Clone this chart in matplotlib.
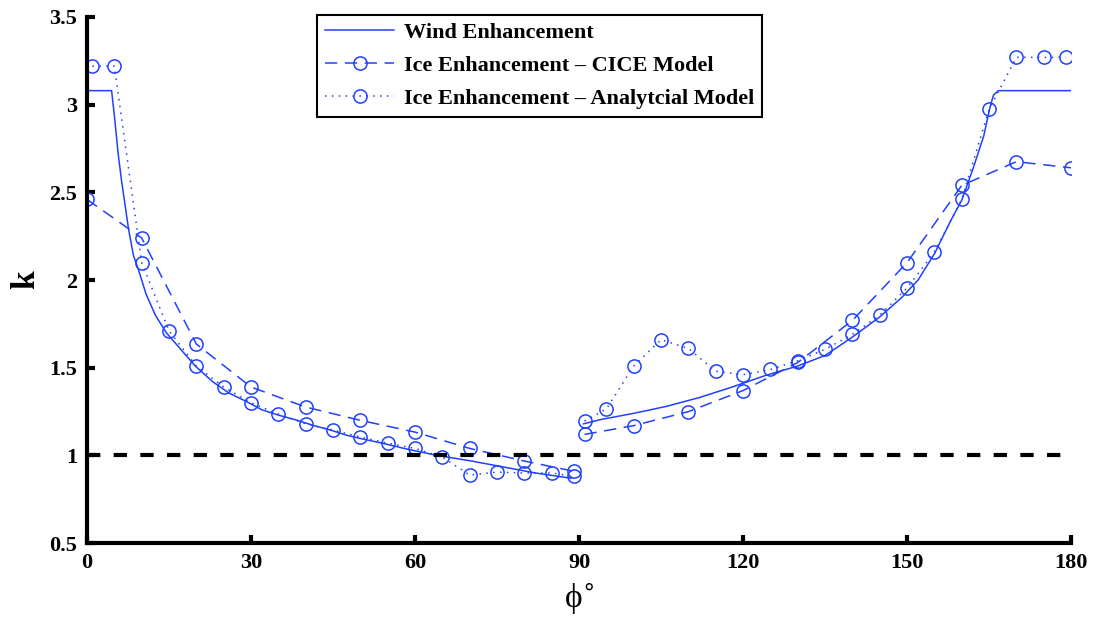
import numpy as np
import matplotlib.pyplot as plt

# Wind enhancement (solid line), two branches either side of 90 deg
phiWindL = [0, 4.5, 5.1, 5.7, 6.3, 7.0, 7.6, 8.5, 9.4, 10.8, 12.5, 14.5, 17, 19.8, 23, 26, 29, 32,
            35, 38.5, 41.5, 44.5, 47.5, 50.5, 54, 58, 64, 70, 76, 82, 88.5]
kWindL = [3.08, 3.08, 2.91, 2.72, 2.57, 2.42, 2.29, 2.14, 2.06, 1.92, 1.80, 1.70, 1.61, 1.51, 1.42,
          1.355, 1.31, 1.26, 1.23, 1.20, 1.17, 1.145, 1.115, 1.093, 1.07, 1.04, 1.00, 0.97, 0.935,
          0.90, 0.87]
phiWindR = [90.8, 94, 100, 106, 112, 118, 124, 130, 135, 140, 145, 149, 152, 155, 158, 160, 162,
            164, 165.2, 165.8, 166.7, 180]
kWindR = [1.18, 1.205, 1.24, 1.28, 1.33, 1.39, 1.455, 1.51, 1.57, 1.675, 1.79, 1.90, 2.0, 2.15,
          2.34, 2.456, 2.63, 2.82, 2.99, 3.055, 3.08, 3.08]

# Ice enhancement - CICE model (dashed with circles)
phiCiceL = [0, 10, 20, 30, 40, 50, 60, 70, 80, 89]
kCiceL = [2.46, 2.24, 1.635, 1.39, 1.276, 1.20, 1.133, 1.04, 0.968, 0.91]
phiCiceR = [91, 100, 110, 120, 130, 140, 150, 160, 170, 180]
kCiceR = [1.12, 1.17, 1.25, 1.37, 1.53, 1.77, 2.10, 2.54, 2.675, 2.64]

# Ice enhancement - analytical model (dotted with circles)
phiAnaL = [1, 5, 10, 15, 20, 25, 30, 35, 40, 45, 50, 55, 60, 65, 70, 75, 80, 85, 89]
kAnaL = [3.22, 3.22, 2.10, 1.71, 1.51, 1.39, 1.30, 1.236, 1.18, 1.145, 1.105, 1.07, 1.04, 0.99,
         0.888, 0.905, 0.90, 0.90, 0.88]
phiAnaR = [91, 95, 100, 105, 110, 115, 120, 125, 130, 135, 140, 145, 150, 155, 160, 165, 170,
           175, 179]
kAnaR = [1.196, 1.265, 1.51, 1.66, 1.61, 1.48, 1.46, 1.49, 1.54, 1.605, 1.69, 1.80, 1.955, 2.16,
         2.46, 2.975, 3.27, 3.27, 3.27]

xTicks = [0, 30, 60, 90, 120, 150, 180]
yTicks = [0.5, 1, 1.5, 2, 2.5, 3, 3.5]

azul = '#2040ff'
plt.rcParams['font.family'] = ['Liberation Serif', 'DejaVu Serif']

fig = plt.figure(figsize=(10.93, 6.20), dpi=100)
ax = fig.add_axes([0.0796, 0.124, 0.9004, 0.8486])

ax.plot(phiWindL, kWindL, '-', color=azul, lw=1.1, label='Wind Enhancement')
ax.plot(phiWindR, kWindR, '-', color=azul, lw=1.1)

ax.plot(phiCiceL, kCiceL, '--', color=azul, lw=1.1, dashes=(8, 5), marker='o', ms=9.5,
        mfc='none', mec=azul, mew=1.1, label='Ice Enhancement – CICE Model')
ax.plot(phiCiceR, kCiceR, '--', color=azul, lw=1.1, dashes=(8, 5), marker='o', ms=9.5,
        mfc='none', mec=azul, mew=1.1)

ax.plot(phiAnaL, kAnaL, ':', color=azul, lw=1.1, dashes=(1, 3.5), marker='o', ms=9.5,
        mfc='none', mec=azul, mew=1.1, label='Ice Enhancement – Analytcial Model')
ax.plot(phiAnaR, kAnaR, ':', color=azul, lw=1.1, dashes=(1, 3.5), marker='o', ms=9.5,
        mfc='none', mec=azul, mew=1.1)

# linha de referencia k = 1
ax.plot([0, 180], [1, 1], '--', color='black', lw=3, dashes=(3.2, 3.2))

ax.set_xlim(0, 180)
ax.set_ylim(0.5, 3.5)
ax.set_xticks(xTicks)
ax.set_yticks(yTicks)
ax.set_yticklabels(['0.5', '1', '1.5', '2', '2.5', '3', '3.5'])

for lado in ['top', 'right']:
    ax.spines[lado].set_visible(False)
for lado in ['left', 'bottom']:
    ax.spines[lado].set_linewidth(3)
    ax.spines[lado].set_capstyle('projecting')

ax.tick_params(direction='in', length=6, width=3, labelsize=16, pad=7)
for lbl in ax.get_xticklabels() + ax.get_yticklabels():
    lbl.set_fontweight('bold')

ax.set_ylabel('k', fontsize=24, fontweight='bold', labelpad=6)
ax.set_xlabel('ϕ$^{\\circ}$', fontsize=24, labelpad=6)

leg = ax.legend(loc='upper center', bbox_to_anchor=(0.46, 1.004), borderaxespad=0,
                prop={'weight': 'bold', 'size': 16}, handlelength=3.1, handletextpad=0.45,
                labelspacing=0.55, fancybox=False, framealpha=1, borderpad=0.35)
leg.get_frame().set_edgecolor('black')
leg.get_frame().set_linewidth(1.5)

plt.savefig('out.png', dpi=100)
